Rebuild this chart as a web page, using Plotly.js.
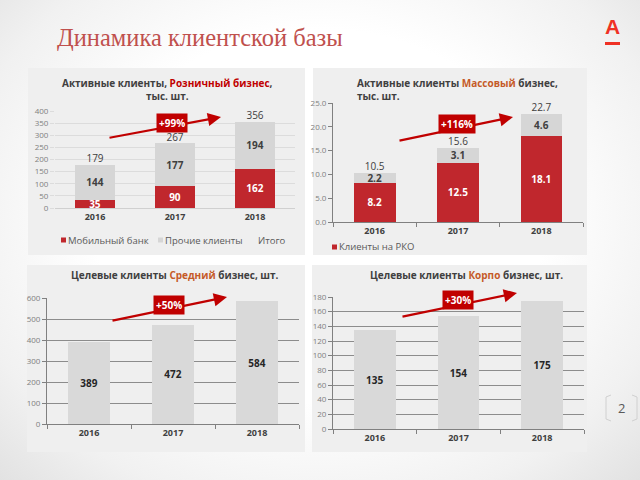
<!DOCTYPE html>
<html>
<head>
<meta charset="utf-8">
<script src="https://cdn.plot.ly/plotly-3.0.1.min.js"></script>
<style>
  html, body { margin: 0; padding: 0; }
  body { background: radial-gradient(ellipse at 50% 45%, #ffffff 50%, #f1f1f1 80%, #e2e2e2 100%); width: 640px; height: 480px; }
  #myDiv { width: 640px; height: 480px; }
</style>
</head>
<body>
<div id="myDiv"></div>
<script>
// данные
var years = ['2016', '2017', '2018'];

var retailMobile = [35, 90, 162];
var retailOther = [144, 177, 194];
var retailTotal = [179, 267, 356];

var massRko = [8.2, 12.5, 18.1];
var massOther = [2.2, 3.1, 4.6];
var massTotal = [10.5, 15.6, 22.7];

var midTarget = [389, 472, 584];
var corpTarget = [135, 154, 175];

var growth = ['+99%', '+116%', '+50%', '+30%'];

var RED = '#c0272d';
var GRAY = '#d6d6d6';
var DARK = '#404040';
var FONT = 'Open Sans, sans-serif';

function px(x) { return x / 640; }
function py(y) { return 1 - y / 480; }

function barText(vals, digits) {
    return vals.map(function(v){ return digits ? v.toFixed(digits) : String(v); });
}

function segment(y, color, textColor, xa, ya, digits) {
    return {
        x: years, y: y, type: 'bar', showlegend: false,
        xaxis: xa, yaxis: ya,
        marker: {color: color},
        text: barText(y, digits), textposition: 'inside', insidetextanchor: 'middle',
        textangle: 0, constraintext: 'none',
        textfont: {family: FONT, size: 10, color: textColor, weight: 'bold'},
        hoverinfo: 'skip'
    };
}

function totals(y, xa, ya, digits) {
    return {
        x: years, y: y, type: 'scatter', mode: 'text', showlegend: false,
        xaxis: xa, yaxis: ya, cliponaxis: false,
        text: barText(y, digits), textposition: 'top center',
        textfont: {family: FONT, size: 10, color: DARK},
        hoverinfo: 'skip'
    };
}

var data = [
    segment(retailMobile, RED, 'white', 'x', 'y'),
    segment(retailOther, GRAY, DARK, 'x', 'y'),
    totals(retailTotal, 'x', 'y'),
    segment(massRko, RED, 'white', 'x2', 'y2', 1),
    segment(massOther, GRAY, DARK, 'x2', 'y2', 1),
    totals(massTotal, 'x2', 'y2', 1),
    segment(midTarget, '#d9d9d9', '#262626', 'x3', 'y3'),
    segment(corpTarget, '#d9d9d9', '#262626', 'x4', 'y4')
];

var xTickFont = {family: FONT, size: 9, color: DARK, weight: 'bold'};
var yTickFont = {family: FONT, size: 8, color: '#808080'};

function growthLabel(text, x, y) {
    return {
        xref: 'paper', yref: 'paper', x: px(x), y: py(y), xanchor: 'center', yanchor: 'middle',
        text: '<b>' + text + '</b>', showarrow: false,
        font: {family: FONT, size: 10, color: 'white'},
        bgcolor: '#c00000', borderpad: 2
    };
}
function arrow(x0, y0, x1, y1) {
    return {
        xref: 'paper', yref: 'paper', x: px(x1), y: py(y1),
        ax: x0 - x1, ay: y0 - y1, axref: 'pixel', ayref: 'pixel',
        text: '', showarrow: true, arrowhead: 2, arrowsize: 1.2,
        arrowwidth: 2.2, arrowcolor: '#c00000'
    };
}
function legendText(text, x, y) {
    return {
        xref: 'paper', yref: 'paper', x: px(x), y: py(y), xanchor: 'left', yanchor: 'middle',
        text: text, showarrow: false, font: {family: FONT, size: 9.5, color: '#595959'}
    };
}
function legendBox(x, y, color) {
    return {type: 'rect', xref: 'paper', yref: 'paper', x0: px(x), x1: px(x + 5), y0: py(y + 2.5), y1: py(y - 2.5),
            fillcolor: color, line: {width: 0}};
}
function panel(x0, x1, y0, y1) {
    return {type: 'rect', xref: 'paper', yref: 'paper', layer: 'below', x0: px(x0), x1: px(x1), y0: py(y1), y1: py(y0),
            fillcolor: '#efefef', line: {width: 0}};
}

var layout = {
    width: 640,
    height: 480,
    margin: {l: 0, r: 0, t: 0, b: 0},
    paper_bgcolor: 'rgba(0,0,0,0)',
    plot_bgcolor: 'rgba(0,0,0,0)',
    showlegend: false,
    barmode: 'stack',
    bargap: 0.5,
    font: {family: FONT, color: DARK},
    xaxis: {
        domain: [px(55), px(295)], anchor: 'y', type: 'category',
        tickfont: xTickFont, showline: true, linecolor: '#d0d0d0', ticks: ''
    },
    yaxis: {
        domain: [py(208), py(111)], anchor: 'x', range: [0, 400], dtick: 50,
        tickfont: yTickFont, showgrid: true, gridcolor: '#dcdcdc', zeroline: false,
        ticks: 'outside', ticklen: 4, tickcolor: '#dcdcdc'
    },
    xaxis2: {
        domain: [px(333), px(583)], anchor: 'y2', type: 'category',
        tickfont: xTickFont, showline: true, linecolor: '#808080',
        ticks: 'outside', tickson: 'boundaries', ticklen: 4, tickcolor: '#808080'
    },
    yaxis2: {
        domain: [py(222), py(103)], anchor: 'x2', range: [0, 25], dtick: 5, tickformat: '.1f',
        tickfont: yTickFont, showgrid: false, zeroline: false, showline: true, linecolor: '#808080',
        ticks: 'outside', ticklen: 4, tickcolor: '#808080'
    },
    xaxis3: {
        domain: [px(47), px(299)], anchor: 'y3', type: 'category',
        tickfont: xTickFont, showline: true, linecolor: '#808080',
        ticks: 'outside', tickson: 'boundaries', ticklen: 4, tickcolor: '#808080'
    },
    yaxis3: {
        domain: [py(424), py(298)], anchor: 'x3', range: [0, 600], dtick: 100,
        tickfont: yTickFont, showgrid: true, gridcolor: '#8c8c8c', zeroline: false,
        showline: true, linecolor: '#808080', ticks: 'outside', ticklen: 4, tickcolor: '#808080'
    },
    xaxis4: {
        domain: [px(333), px(584)], anchor: 'y4', type: 'category',
        tickfont: xTickFont, showline: true, linecolor: '#808080',
        ticks: 'outside', tickson: 'boundaries', ticklen: 4, tickcolor: '#808080'
    },
    yaxis4: {
        domain: [py(429), py(297)], anchor: 'x4', range: [0, 180], dtick: 20,
        tickfont: yTickFont, showgrid: true, gridcolor: '#8c8c8c', zeroline: false,
        showline: true, linecolor: '#808080', ticks: 'outside', ticklen: 4, tickcolor: '#808080'
    },
    shapes: [
        // фон панелей
        panel(28, 305, 68, 255),
        panel(313, 587, 68, 255),
        panel(27, 305, 265, 452),
        panel(312, 587, 265, 452),
        // легенды
        legendBox(61, 240, RED),
        legendBox(158, 240, GRAY),
        legendBox(332, 247, RED),
        // подчёркивание логотипа
        {type: 'rect', xref: 'paper', yref: 'paper', x0: px(605), x1: px(620), y0: py(45), y1: py(42),
         fillcolor: '#ef3124', line: {width: 0}},
        // скобки номера страницы
        {type: 'path', xref: 'paper', yref: 'paper',
         path: 'M ' + px(611) + ' ' + py(395) + ' L ' + px(606) + ' ' + py(397) + ' L ' + px(606) + ' ' + py(419) + ' L ' + px(611) + ' ' + py(421),
         line: {color: '#d0d0d0', width: 1}},
        {type: 'path', xref: 'paper', yref: 'paper',
         path: 'M ' + px(632) + ' ' + py(395) + ' L ' + px(637) + ' ' + py(397) + ' L ' + px(637) + ' ' + py(419) + ' L ' + px(632) + ' ' + py(421),
         line: {color: '#d0d0d0', width: 1}}
    ],
    annotations: [
        {xref: 'paper', yref: 'paper', x: px(55), y: py(38), xanchor: 'left', yanchor: 'middle',
         text: 'Динамика клиентской базы', showarrow: false,
         font: {family: 'Liberation Serif, serif', size: 24.5, color: '#c0504d'}},
        {xref: 'paper', yref: 'paper', x: px(612), y: py(26), xanchor: 'center', yanchor: 'middle',
         text: '<b>А</b>', showarrow: false,
         font: {family: 'Liberation Sans, sans-serif', size: 21, color: '#ef3124'}},
        {xref: 'paper', yref: 'paper', x: px(621), y: py(408), xanchor: 'center', yanchor: 'middle',
         text: '2', showarrow: false,
         font: {family: FONT, size: 13, color: '#595959'}},

        {xref: 'paper', yref: 'paper', x: px(167), y: py(89), xanchor: 'center', yanchor: 'middle',
         text: '<b>Активные клиенты, <span style="color:#c00000">Розничный бизнес</span>,<br>тыс. шт.</b>',
         showarrow: false, font: {family: FONT, size: 10, color: DARK}},
        {xref: 'paper', yref: 'paper', x: px(355), y: py(89), xanchor: 'left', yanchor: 'middle', align: 'left',
         text: '<b>Активные клиенты <span style="color:#c55a28">Массовый</span> бизнес,<br>тыс. шт.</b>',
         showarrow: false, font: {family: FONT, size: 10, color: DARK}},
        {xref: 'paper', yref: 'paper', x: px(175), y: py(275), xanchor: 'center', yanchor: 'middle',
         text: '<b>Целевые клиенты <span style="color:#c55a28">Средний</span> бизнес, шт.</b>',
         showarrow: false, font: {family: FONT, size: 10, color: DARK}},
        {xref: 'paper', yref: 'paper', x: px(466), y: py(275), xanchor: 'center', yanchor: 'middle',
         text: '<b>Целевые клиенты <span style="color:#c55a28">Корпо</span> бизнес, шт.</b>',
         showarrow: false, font: {family: FONT, size: 10, color: DARK}},

        legendText('Мобильный банк', 66, 240),
        legendText('Прочие клиенты', 163, 240),
        legendText('Итого', 256, 240),
        legendText('Клиенты на РКО', 337, 247),

        arrow(108, 138, 221, 117),
        arrow(398, 141, 513, 117),
        arrow(111, 321, 227, 297),
        arrow(401, 317, 517, 293),
        growthLabel(growth[0], 172, 123),
        growthLabel(growth[1], 457, 124),
        growthLabel(growth[2], 169, 305),
        growthLabel(growth[3], 458, 300)
    ]
};

Plotly.newPlot('myDiv', data, layout, {displayModeBar: false, staticPlot: true});
</script>
</body>
</html>
